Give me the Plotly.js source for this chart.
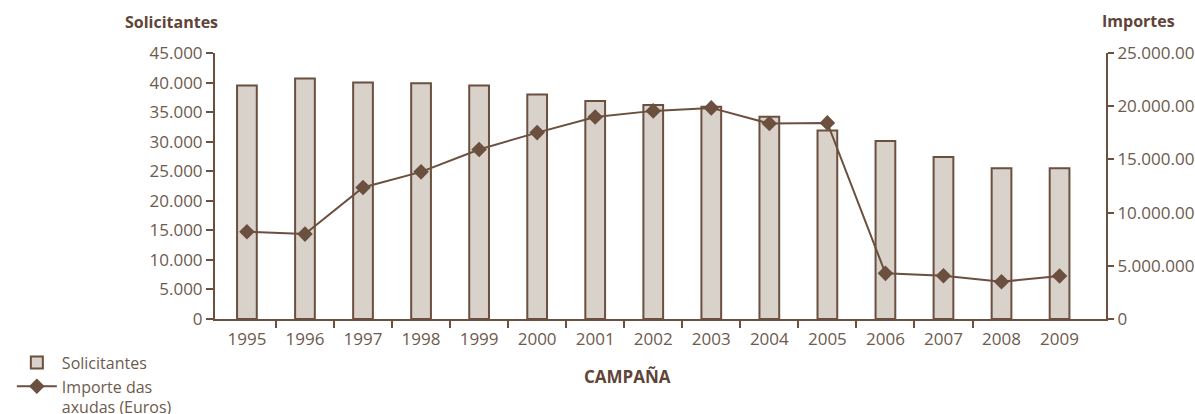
<!DOCTYPE html>
<html>
<head>
<meta charset="utf-8">
<script src="https://cdn.plot.ly/plotly-3.0.1.min.js"></script>
<style>html,body{margin:0;padding:0;background:#fff;}#chart{width:1195px;height:414px;}</style>
</head>
<body>
<div id="chart"></div>
<script>
var years = [1995, 1996, 1997, 1998, 1999, 2000, 2001, 2002, 2003, 2004, 2005, 2006, 2007, 2008, 2009];
var solicitantes = [39500, 40700, 40000, 39900, 39500, 38000, 36900, 36200, 35900, 34200, 31900, 30100, 27400, 25500, 25500];
var importes = [8200000, 7980000, 12360000, 13830000, 15930000, 17520000, 18990000, 19560000, 19840000, 18370000, 18430000, 4290000, 4070000, 3500000, 4040000];
var yTicksLeft = [0, 5000, 10000, 15000, 20000, 25000, 30000, 35000, 40000, 45000];
var yTicksRight = [0, 5000000, 10000000, 15000000, 20000000, 25000000];
var yearLabels = years.map(function (y) { return String(y); });

var brown = '#6b4f3f';
var textCol = '#6e5a4d';
var titleCol = '#5e4537';
var fontFam = '"Open Sans", "DejaVu Sans", sans-serif';

var boundaryTicks = years.slice(0, 13).map(function (y) { return y + 0.5; });
var xRange = [1994.45, 2009.8];

var traces = [
  {
    type: 'bar',
    name: 'Solicitantes',
    x: years,
    y: solicitantes,
    width: 0.34,
    marker: { color: '#d9d2cb', line: { color: brown, width: 2 } },
    xaxis: 'x', yaxis: 'y',
    hoverinfo: 'x+y'
  },
  {
    type: 'scatter',
    mode: 'lines+markers',
    name: 'Importe das<br>axudas (Euros)',
    x: years,
    y: importes,
    line: { color: brown, width: 2 },
    marker: { symbol: 'diamond', size: 12, color: brown },
    xaxis: 'x2', yaxis: 'y2',
    hoverinfo: 'x+y'
  }
];

var layout = {
  width: 1195,
  height: 414,
  margin: { l: 215, r: 89, t: 53, b: 95, autoexpand: false },
  paper_bgcolor: '#ffffff',
  plot_bgcolor: '#ffffff',
  separators: ',.',
  font: { family: fontFam, size: 16, color: textCol },
  showlegend: true,
  legend: {
    x: -0.228, y: -0.1, xanchor: 'left', yanchor: 'top',
    bgcolor: 'rgba(0,0,0,0)',
    font: { family: fontFam, size: 16, color: textCol },
    itemwidth: 40,
    valign: 'top',
    tracegroupgap: 2
  },
  xaxis: {
    type: 'linear',
    range: xRange,
    tickmode: 'array',
    tickvals: years,
    ticktext: yearLabels,
    ticks: 'outside',
    ticklen: 4,
    tickcolor: 'rgba(0,0,0,0)',
    showgrid: false,
    zeroline: false,
    showline: true,
    linecolor: brown,
    linewidth: 2,
    fixedrange: true,
    tickfont: { family: fontFam, size: 17, color: textCol }
  },
  xaxis2: {
    type: 'linear',
    overlaying: 'x',
    anchor: 'y',
    side: 'bottom',
    range: xRange,
    tickmode: 'array',
    tickvals: boundaryTicks,
    ticks: 'outside',
    ticklen: 8,
    tickwidth: 2,
    tickcolor: brown,
    showticklabels: false,
    showgrid: false,
    zeroline: false,
    showline: false,
    fixedrange: true
  },
  yaxis: {
    range: [0, 45000],
    tickmode: 'array',
    tickvals: yTicksLeft,
    tickformat: ',d',
    ticks: 'outside',
    ticklen: 7,
    tickwidth: 2,
    tickcolor: brown,
    showline: true,
    linecolor: brown,
    linewidth: 2,
    showgrid: false,
    zeroline: false,
    fixedrange: true,
    tickfont: { family: fontFam, size: 17, color: textCol }
  },
  yaxis2: {
    overlaying: 'y',
    anchor: 'x2',
    side: 'right',
    range: [0, 25000000],
    tickmode: 'array',
    tickvals: yTicksRight,
    tickformat: ',d',
    ticks: 'outside',
    ticklen: 6,
    tickwidth: 2,
    tickcolor: brown,
    showline: true,
    linecolor: brown,
    linewidth: 2,
    showgrid: false,
    zeroline: false,
    fixedrange: true,
    tickfont: { family: fontFam, size: 17, color: textCol }
  },
  annotations: [
    { text: '<b>Solicitantes</b>', xref: 'paper', yref: 'paper', x: -0.0488, y: 1.118, xanchor: 'center', yanchor: 'middle', showarrow: false, font: { family: fontFam, size: 16, color: titleCol } },
    { text: '<b>Importes</b>', xref: 'paper', yref: 'paper', x: 1.0365, y: 1.120, xanchor: 'center', yanchor: 'middle', showarrow: false, font: { family: fontFam, size: 16, color: titleCol } },
    { text: '<b>CAMPAÑA</b>', xref: 'paper', yref: 'paper', x: 0.4633, y: -0.218, xanchor: 'center', yanchor: 'middle', showarrow: false, font: { family: fontFam, size: 17, color: titleCol } }
  ]
};

Plotly.newPlot('chart', traces, layout, { displayModeBar: false, staticPlot: true });
</script>
</body>
</html>
